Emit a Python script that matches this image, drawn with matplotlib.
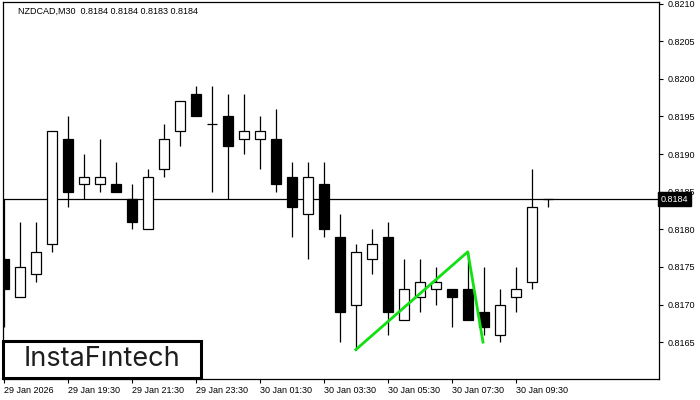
import matplotlib
matplotlib.use("Agg")
import matplotlib.pyplot as plt
from matplotlib.patches import Rectangle

# NZDCAD M30 candles
opens  = [0.8176, 0.8171, 0.8174, 0.8178, 0.8192, 0.8186, 0.8186, 0.8186, 0.8184, 0.8180,
          0.8188, 0.8193, 0.8198, 0.8194, 0.8195, 0.8192, 0.8192, 0.8192, 0.8187, 0.8182,
          0.8186, 0.8179, 0.8170, 0.8176, 0.8179, 0.8168, 0.8171, 0.8172, 0.8172, 0.8172,
          0.8169, 0.8166, 0.8171, 0.8173, 0.8184]
highs  = [0.8184, 0.8181, 0.8181, 0.8193, 0.8195, 0.8190, 0.8192, 0.8189, 0.8186, 0.8188,
          0.8194, 0.8197, 0.8199, 0.8199, 0.8198, 0.8198, 0.8195, 0.8196, 0.8189, 0.8189,
          0.8189, 0.8182, 0.8178, 0.8180, 0.8181, 0.8176, 0.8176, 0.8175, 0.8172, 0.8177,
          0.8175, 0.8172, 0.8175, 0.8188, 0.8184]
lows   = [0.8167, 0.8171, 0.8173, 0.8177, 0.8183, 0.8184, 0.8185, 0.8185, 0.8180, 0.8180,
          0.8187, 0.8191, 0.8195, 0.8185, 0.8184, 0.8190, 0.8188, 0.8185, 0.8179, 0.8176,
          0.8179, 0.8165, 0.8164, 0.8174, 0.8166, 0.8168, 0.8169, 0.8170, 0.8167, 0.8168,
          0.8166, 0.8165, 0.8169, 0.8172, 0.8183]
closes = [0.8172, 0.8175, 0.8177, 0.8193, 0.8185, 0.8187, 0.8187, 0.8185, 0.8181, 0.8187,
          0.8192, 0.8197, 0.8195, 0.8194, 0.8191, 0.8193, 0.8193, 0.8186, 0.8183, 0.8187,
          0.8180, 0.8169, 0.8177, 0.8178, 0.8169, 0.8172, 0.8173, 0.8173, 0.8171, 0.8168,
          0.8167, 0.8170, 0.8172, 0.8183, 0.8184]

last_price = 0.8184
title = "NZDCAD,M30  0.8184 0.8184 0.8183 0.8184"

# pattern line (green)
pattern_x = [22, 29, 29.95]
pattern_y = [0.8164, 0.8177, 0.8165]

xtick_pos = [0, 4, 8, 12, 16, 20, 24, 28, 32]
xtick_labels = ["29 Jan 2026", "29 Jan 19:30", "29 Jan 21:30", "29 Jan 23:30", "30 Jan 01:30",
                "30 Jan 03:30", "30 Jan 05:30", "30 Jan 07:30", "30 Jan 09:30"]
ytick_pos = [0.8165, 0.8170, 0.8175, 0.8180, 0.8185, 0.8190, 0.8195, 0.8200, 0.8205, 0.8210]

plt.rcParams['font.family'] = ['Liberation Sans', 'DejaVu Sans']

fig = plt.figure(figsize=(7, 4), dpi=100)
ax = fig.add_axes([3/700, 21/400, 656/700, 377/400])

xs = list(range(len(opens)))
# wicks
ax.vlines(xs, lows, highs, color="black", linewidth=0.9, zorder=2)
# bodies
for i in xs:
    o, c = opens[i], closes[i]
    fc = "black" if c < o else "white"
    ax.bar(i, abs(c - o), bottom=min(o, c), width=0.62, color=fc,
           edgecolor="black", linewidth=0.9, zorder=3)

ax.axhline(last_price, color="black", linewidth=0.9, zorder=1)
ax.plot(pattern_x, pattern_y, color="#11e011", linewidth=2, zorder=4)

ax.set_xlim(-0.05, 40.95)
ax.set_ylim(0.81601, 0.82102)

ax.yaxis.tick_right()
ax.set_yticks(ytick_pos)
ax.set_yticklabels(["%.4f" % v for v in ytick_pos])
ax.set_xticks(xtick_pos)
ax.set_xticklabels(xtick_labels, ha="left")
ax.tick_params(axis="both", length=3, width=0.8, labelsize=6.5, pad=2, colors="black")
ax.tick_params(axis="y", pad=3)
for s in ax.spines.values():
    s.set_linewidth(0.9)

ax.text(0.023, 0.976, title, transform=ax.transAxes, fontsize=6.5, va="center", ha="left")

# current price tag, drawn over the 0.8185 label like the terminal does
ax.text(1.003, last_price, "%.4f" % last_price, transform=ax.get_yaxis_transform(),
        fontsize=6.5, color="white", va="center", ha="left",
        bbox=dict(boxstyle="square,pad=0.3", fc="black", ec="black"), clip_on=False, zorder=10)

# logo
fig.patches.append(Rectangle((3/700, 22/400), 198/700, 37/400, transform=fig.transFigure,
                             fc="white", ec="black", linewidth=2.2, zorder=5))
fig.text(102/700, 41/400, "InstaFıntech", fontsize=19.5, family="Inter", color="#1e1e1e",
         ha="center", va="center", zorder=6)

fig.savefig("out.png", dpi=100)
